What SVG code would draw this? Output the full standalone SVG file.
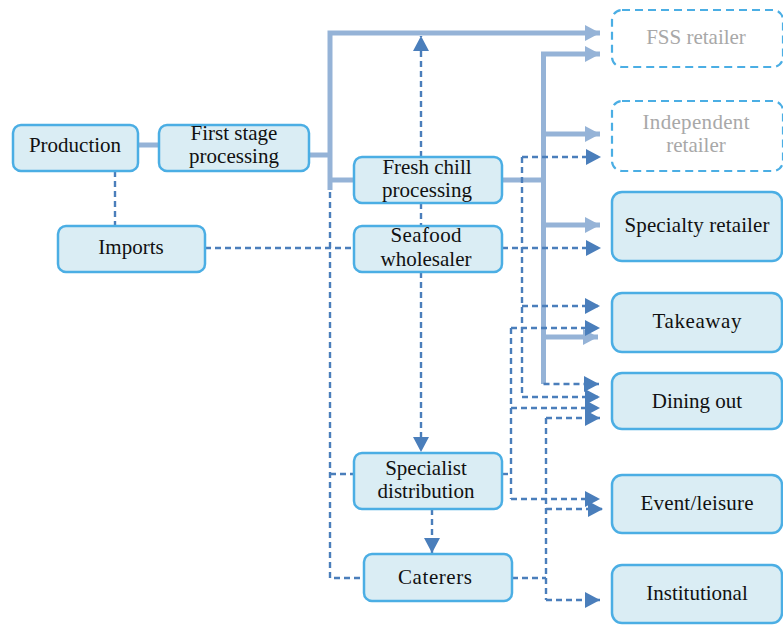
<svg xmlns="http://www.w3.org/2000/svg" width="783" height="625" viewBox="0 0 783 625" font-family="Liberation Serif, Times New Roman, serif">
  <style>
    .box { fill: #DAEDF4; stroke: #4BAEE4; stroke-width: 2.5; }
    .ghost { fill: none; stroke: #4BAEE4; stroke-width: 2.2; stroke-dasharray: 8 5; }
    .lbl { font-size: 21px; text-anchor: middle; fill: #111; }
    .glbl { font-size: 21px; text-anchor: middle; fill: #A8A8A8; }
    .main { fill: none; stroke: #95B3D7; stroke-width: 5; }
    .dash { fill: none; stroke: #4A7EBB; stroke-width: 2.4; stroke-dasharray: 6 4; }
  </style>
  <defs>
    <marker id="arrDark" markerUnits="userSpaceOnUse" markerWidth="16" markerHeight="16" refX="15" refY="8" orient="auto">
      <path d="M0,0 L15,8 L0,16 z" fill="#4A7EBB"/>
    </marker>
    <marker id="arrLight" markerUnits="userSpaceOnUse" markerWidth="16" markerHeight="16" refX="15" refY="8" orient="auto">
      <path d="M0,0 L15,8 L0,16 z" fill="#95B3D7"/>
    </marker>
  </defs>
  <rect width="783" height="625" fill="#fff"/>

  <g id="connectors">
    <!-- main product flow (solid, thick) -->
    <line class="main" x1="138" y1="145" x2="159" y2="145"/>
    <line class="main" x1="309" y1="155" x2="330" y2="155"/>
    <polyline class="main" points="330,190 330,33 600,33" marker-end="url(#arrLight)"/>
    <line class="main" x1="330" y1="180" x2="354" y2="180"/>
    <line class="main" x1="502" y1="180" x2="546" y2="180"/>
    <polyline class="main" points="543.5,384 543.5,54 600,54" marker-end="url(#arrLight)"/>
    <line class="main" x1="543.5" y1="134" x2="600" y2="134" marker-end="url(#arrLight)"/>
    <line class="main" x1="543.5" y1="225" x2="600" y2="225" marker-end="url(#arrLight)"/>
    <line class="main" x1="543.5" y1="337" x2="598" y2="337" marker-end="url(#arrLight)"/>

    <!-- secondary flows (dashed) -->
    <line class="dash" x1="115" y1="171" x2="115" y2="226"/>
    <line class="dash" x1="205" y1="248" x2="354" y2="248"/>
    <polyline class="dash" points="330,192 330,578 364,578"/>
    <line class="dash" x1="330" y1="474" x2="354" y2="474"/>
    <line class="dash" x1="421" y1="157" x2="421" y2="36" marker-end="url(#arrDark)"/>
    <line class="dash" x1="421" y1="203" x2="421" y2="226"/>
    <line class="dash" x1="421" y1="272" x2="421" y2="452" marker-end="url(#arrDark)"/>
    <line class="dash" x1="432" y1="509" x2="432" y2="553" marker-end="url(#arrDark)"/>
    <line class="dash" x1="502" y1="248" x2="601" y2="248" marker-end="url(#arrDark)"/>
    <line class="dash" x1="543.5" y1="384" x2="599" y2="384" marker-end="url(#arrDark)"/>

    <!-- distribution bus at x=522 -->
    <line class="dash" x1="522" y1="157" x2="522" y2="397"/>
    <line class="dash" x1="522" y1="157" x2="601" y2="157" marker-end="url(#arrDark)"/>
    <line class="dash" x1="522" y1="306" x2="600" y2="306" marker-end="url(#arrDark)"/>
    <line class="dash" x1="522" y1="397" x2="600" y2="397" marker-end="url(#arrDark)"/>

    <!-- distribution bus at x=511 -->
    <line class="dash" x1="511" y1="328" x2="511" y2="499"/>
    <line class="dash" x1="511" y1="328" x2="600" y2="328" marker-end="url(#arrDark)"/>
    <line class="dash" x1="511" y1="408" x2="600" y2="408" marker-end="url(#arrDark)"/>
    <line class="dash" x1="511" y1="499" x2="600" y2="499" marker-end="url(#arrDark)"/>
    <line class="dash" x1="502" y1="474" x2="511" y2="474"/>

    <!-- distribution bus at x=546 -->
    <line class="dash" x1="546" y1="418" x2="546" y2="600"/>
    <line class="dash" x1="546" y1="418" x2="600" y2="418" marker-end="url(#arrDark)"/>
    <line class="dash" x1="546" y1="509" x2="603" y2="509" marker-end="url(#arrDark)"/>
    <line class="dash" x1="546" y1="600" x2="600" y2="600" marker-end="url(#arrDark)"/>
    <line class="dash" x1="512" y1="578" x2="546" y2="578"/>
  </g>

  <g id="production">
    <rect class="box" x="13" y="125" width="125" height="46" rx="8"/>
    <text class="lbl" x="75" y="152" font-family="Liberation Serif">Production</text>
  </g>
  <g id="first-stage-processing">
    <rect class="box" x="159" y="125" width="150" height="46" rx="8"/>
    <text class="lbl" x="234" y="140" font-family="Liberation Serif">First stage</text>
    <text class="lbl" x="234" y="163" font-family="Liberation Serif">processing</text>
  </g>
  <g id="imports">
    <rect class="box" x="58" y="226" width="147" height="46" rx="8"/>
    <text class="lbl" x="131" y="254" font-family="Liberation Serif">Imports</text>
  </g>
  <g id="fresh-chill-processing">
    <rect class="box" x="354" y="157" width="148" height="46" rx="8"/>
    <text class="lbl" x="427" y="174" font-family="Liberation Serif">Fresh chill</text>
    <text class="lbl" x="427" y="197" font-family="Liberation Serif">processing</text>
  </g>
  <g id="seafood-wholesaler">
    <rect class="box" x="354" y="226" width="148" height="46" rx="8"/>
    <text class="lbl" x="426" y="242" textLength="71" font-family="Liberation Serif">Seafood</text>
    <text class="lbl" x="426" y="266" font-family="Liberation Serif">wholesaler</text>
  </g>
  <g id="specialist-distribution">
    <rect class="box" x="354" y="453" width="148" height="56" rx="8"/>
    <text class="lbl" x="426" y="475" font-family="Liberation Serif">Specialist</text>
    <text class="lbl" x="426" y="498" font-family="Liberation Serif">distribution</text>
  </g>
  <g id="caterers">
    <rect class="box" x="364" y="554" width="148" height="47" rx="8"/>
    <text class="lbl" x="435" y="584" textLength="74" font-family="Liberation Serif">Caterers</text>
  </g>

  <g id="fss-retailer">
    <rect class="ghost" x="612" y="10" width="171" height="57" rx="10"/>
    <text class="glbl" x="696" y="44" font-family="Liberation Serif">FSS retailer</text>
  </g>
  <g id="independent-retailer">
    <rect class="ghost" x="612" y="101" width="171" height="70" rx="10"/>
    <text class="glbl" x="696" y="129" textLength="107" font-family="Liberation Serif">Independent</text>
    <text class="glbl" x="696" y="152" font-family="Liberation Serif">retailer</text>
  </g>
  <g id="specialty-retailer">
    <rect class="box" x="612" y="192" width="170" height="69" rx="10"/>
    <text class="lbl" x="697" y="232" textLength="145" font-family="Liberation Serif">Specialty retailer</text>
  </g>
  <g id="takeaway">
    <rect class="box" x="612" y="293" width="170" height="59" rx="10"/>
    <text class="lbl" x="697" y="328" textLength="89" font-family="Liberation Serif">Takeaway</text>
  </g>
  <g id="dining-out">
    <rect class="box" x="612" y="373" width="170" height="56" rx="10"/>
    <text class="lbl" x="697" y="408" font-family="Liberation Serif">Dining out</text>
  </g>
  <g id="event-leisure">
    <rect class="box" x="612" y="475" width="170" height="58" rx="10"/>
    <text class="lbl" x="697" y="510" textLength="113" font-family="Liberation Serif">Event/leisure</text>
  </g>
  <g id="institutional">
    <rect class="box" x="612" y="565" width="170" height="58" rx="10"/>
    <text class="lbl" x="697" y="600" font-family="Liberation Serif">Institutional</text>
  </g>
</svg>
